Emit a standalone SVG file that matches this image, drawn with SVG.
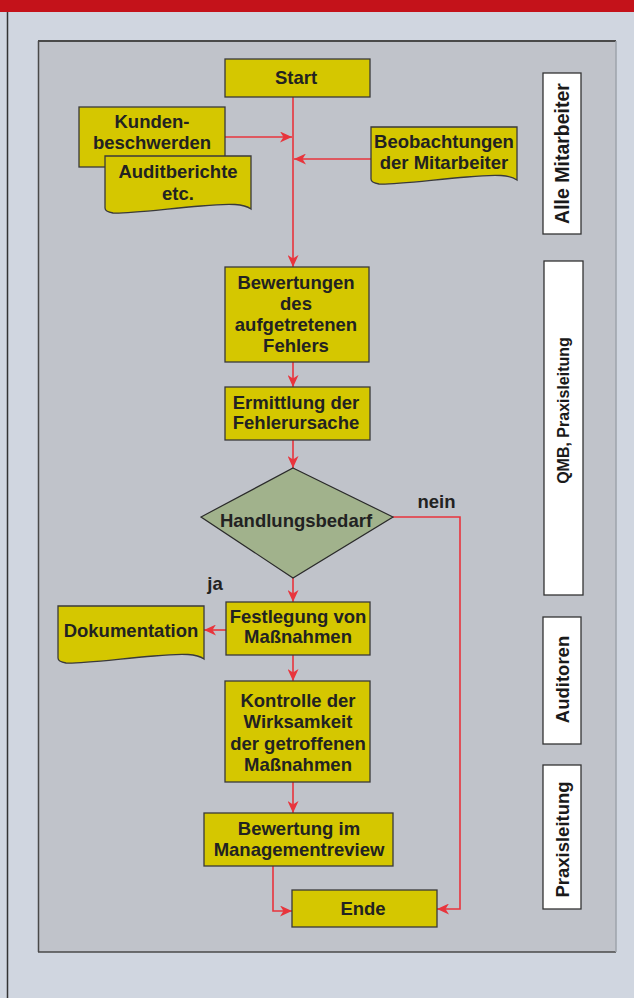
<svg xmlns="http://www.w3.org/2000/svg" width="634" height="998" viewBox="0 0 634 998">
<style>
.node{fill:#d5c700;stroke:#3a3a3a;stroke-width:1.3}
.dia{fill:#a1b28c;stroke:#2a2a2a;stroke-width:1.2}
.lab{fill:#ffffff;stroke:#333333;stroke-width:1.3}
.t{font-family:"Liberation Sans",Arial,sans-serif;font-weight:bold;font-size:18.5px;fill:#222222;text-anchor:middle}
.rl{font-family:"Liberation Sans",Arial,sans-serif;font-weight:bold;font-size:18.5px;fill:#1a1a1a;text-anchor:middle}
.c{fill:none;stroke:#e8343c;stroke-width:1.6}
</style>
<defs>
<marker id="ah" markerUnits="userSpaceOnUse" markerWidth="12" markerHeight="11" refX="12" refY="5.5" orient="auto">
<path d="M0,0 L12,5.5 L0,11 L3.5,5.5 Z" fill="#e8343c"/>
</marker>
</defs>
<rect x="0" y="0" width="634" height="998" fill="#d0d6e0"/>
<rect x="0" y="0" width="634" height="12" fill="#c4121a"/>
<line x1="7.5" y1="12" x2="7.5" y2="998" stroke="#333" stroke-width="1.5"/>
<rect x="38" y="41" width="578" height="911" fill="#c0c3ca"/>
<line x1="38" y1="41" x2="616" y2="41" stroke="#4a4a4a" stroke-width="1.8"/>
<line x1="38.5" y1="41" x2="38.5" y2="952" stroke="#4a4a4a" stroke-width="1.5"/>
<line x1="38" y1="952" x2="616" y2="952" stroke="#4a4a4a" stroke-width="1.5"/>
<line x1="616" y1="41" x2="616" y2="952" stroke="#9ea3ab" stroke-width="1.5"/>

<g id="connectors">
<path class="c" d="M293,97 V267" marker-end="url(#ah)"/>
<path class="c" d="M225,137 H292" marker-end="url(#ah)"/>
<path class="c" d="M371,159 H294" marker-end="url(#ah)"/>
<path class="c" d="M293,362 V387" marker-end="url(#ah)"/>
<path class="c" d="M293,440 V468" marker-end="url(#ah)"/>
<path class="c" d="M293,578 V602" marker-end="url(#ah)"/>
<path class="c" d="M226,630 H204" marker-end="url(#ah)"/>
<path class="c" d="M293,655 V681" marker-end="url(#ah)"/>
<path class="c" d="M293,782 V813" marker-end="url(#ah)"/>
<path class="c" d="M273,866 V911 H292" marker-end="url(#ah)"/>
<path class="c" d="M393,517 H460 V909 H437" marker-end="url(#ah)"/>
</g>

<g id="start">
<rect class="node" x="225" y="59" width="145" height="38"/>
<text class="t" x="296" y="84">Start</text>
</g>
<g id="kunden">
<rect class="node" x="79" y="107" width="146" height="60"/>
<text class="t" x="152" y="128">Kunden-</text>
<text class="t" x="152" y="149">beschwerden</text>
</g>
<g id="audit">
<path class="node" d="M105,156 H251 V209 C244,204 232,203 201,206 C165,209 125,214 113,213 C107,212 105,210 105,208 Z"/>
<text class="t" x="178" y="178">Auditberichte</text>
<text class="t" x="178" y="200">etc.</text>
</g>
<g id="beobachtungen">
<path class="node" d="M371,127 H517 V180 C510,175 498,174 467,177 C431,180 391,185 379,184 C373,183 371,181 371,179 Z"/>
<text class="t" x="444" y="148">Beobachtungen</text>
<text class="t" x="444" y="169">der Mitarbeiter</text>
</g>
<g id="bewertungen">
<rect class="node" x="225" y="267" width="144" height="95"/>
<text class="t" x="296" y="289">Bewertungen</text>
<text class="t" x="296" y="310">des</text>
<text class="t" x="296" y="331">aufgetretenen</text>
<text class="t" x="296" y="352">Fehlers</text>
</g>
<g id="ermittlung">
<rect class="node" x="225" y="387" width="145" height="53"/>
<text class="t" x="296" y="409">Ermittlung der</text>
<text class="t" x="296" y="429">Fehlerursache</text>
</g>
<g id="handlungsbedarf">
<path class="dia" d="M293,468 L393,517 L293,578 L201,517 Z"/>
<text class="t" x="296" y="527">Handlungsbedarf</text>
</g>
<g id="labels">
<text class="t" x="436.5" y="508">nein</text>
<text class="t" x="215" y="590">ja</text>
</g>
<g id="festlegung">
<rect class="node" x="226" y="602" width="144" height="53"/>
<text class="t" x="298" y="623">Festlegung von</text>
<text class="t" x="298" y="643">Maßnahmen</text>
</g>
<g id="dokumentation">
<path class="node" d="M58,606 H204 V659 C197,654 185,653 154,656 C118,659 78,664 66,663 C60,662 58,660 58,658 Z"/>
<text class="t" x="131" y="637">Dokumentation</text>
</g>
<g id="kontrolle">
<rect class="node" x="225" y="681" width="145" height="101"/>
<text class="t" x="298" y="707">Kontrolle der</text>
<text class="t" x="298" y="728">Wirksamkeit</text>
<text class="t" x="298" y="750">der getroffenen</text>
<text class="t" x="298" y="771">Maßnahmen</text>
</g>
<g id="managementreview">
<rect class="node" x="204" y="813" width="189" height="53"/>
<text class="t" x="299" y="835">Bewertung im</text>
<text class="t" x="299" y="856">Managementreview</text>
</g>
<g id="ende">
<rect class="node" x="292" y="890" width="145" height="37"/>
<text class="t" x="363" y="915">Ende</text>
</g>

<g id="lane-alle">
<rect class="lab" x="543" y="73" width="38" height="161"/>
<text class="rl" style="font-size:19.5px" transform="translate(569,153.5) rotate(-90)">Alle Mitarbeiter</text>
</g>
<g id="lane-qmb">
<rect class="lab" x="544" y="261" width="39" height="334"/>
<text class="rl" style="font-size:16px" transform="translate(569,410.5) rotate(-90)">QMB, Praxisleitung</text>
</g>
<g id="lane-auditoren">
<rect class="lab" x="543" y="617" width="38" height="127"/>
<text class="rl" transform="translate(569,679.5) rotate(-90)">Auditoren</text>
</g>
<g id="lane-praxis">
<rect class="lab" x="543" y="765" width="38" height="144"/>
<text class="rl" transform="translate(569,839.5) rotate(-90)">Praxisleitung</text>
</g>
</svg>
